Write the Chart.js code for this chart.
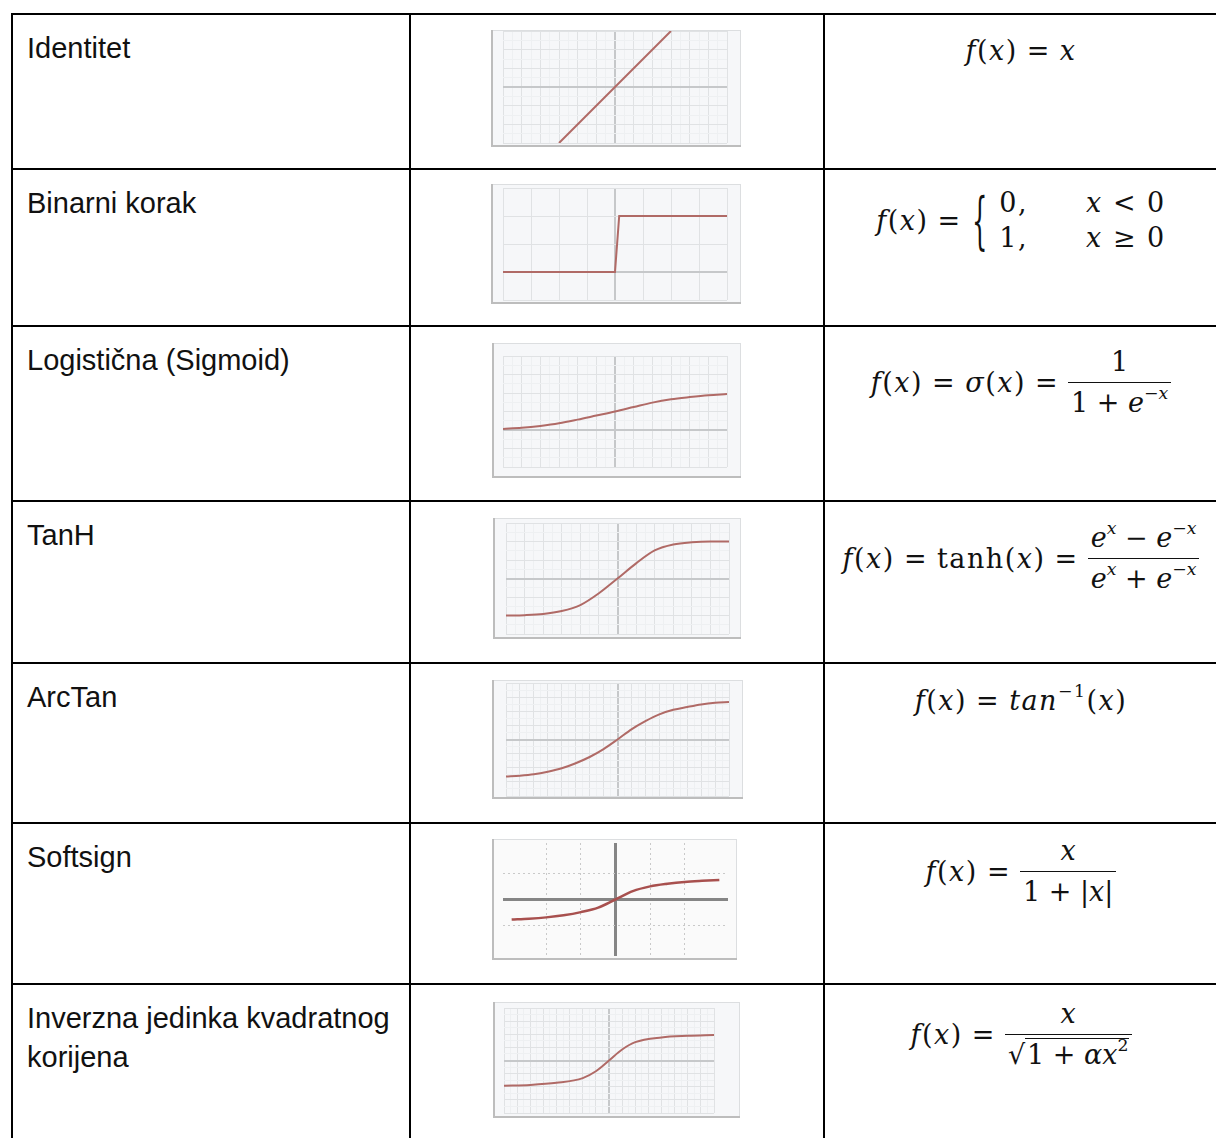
<!DOCTYPE html>
<html>
<head>
<meta charset="utf-8">
<script src="https://cdn.jsdelivr.net/npm/chart.js@4"></script>
<style>
body{margin:0;width:1216px;height:1138px;overflow:hidden;background:#fff;position:relative;font-family:"Liberation Sans",Arial,sans-serif;}
.hl{position:absolute;height:2px;background:#000;}
.vl{position:absolute;width:2px;background:#000;}
.name{position:absolute;left:27px;width:380px;font-size:29px;line-height:39px;color:#111;}
.box{position:absolute;background:#f6f7f9;box-shadow:inset 2px -2px 0 #bdbdbd, inset -1px 1px 0 #dcdee0;}
.f{position:absolute;left:826px;width:390px;display:flex;justify-content:center;align-items:center;font-family:"DejaVu Serif",serif;font-size:27px;letter-spacing:1.5px;color:#111;white-space:nowrap;}
.i{font-style:italic}
.eq{margin:0 9px;}
.frac{display:inline-flex;flex-direction:column;align-items:center;letter-spacing:0;}
.frac > span{padding:0 3px;line-height:40px;}
.frac .den{border-top:1.7px solid #111;}
sup{font-size:.64em;vertical-align:.75em;line-height:0;}
.brace{display:inline-block;transform:scale(0.9,2.3);font-weight:300;margin:0 10px 0 0;}
.cases{display:inline-grid;grid-template-columns:auto auto;column-gap:58px;line-height:35px;}
.sqrt{border-top:1.7px solid #111;padding-left:2px;}
</style>
</head>
<body>
<div id="table"></div>

<div class="f" style="top:30px;height:40px;"><span class="i">f</span>(<span class="i">x</span>)<span class="eq">=</span><span class="i">x</span></div>

<div class="f" style="top:190px;height:60px;"><span class="i">f</span>(<span class="i">x</span>)<span class="eq">=</span><span class="brace">{</span><span class="cases"><span>0,</span><span><span class="i">x</span> &lt; 0</span><span>1,</span><span><span class="i">x</span> ≥ 0</span></span></div>

<div class="f" style="top:344px;height:76px;"><span class="i">f</span>(<span class="i">x</span>)<span class="eq">=</span><span class="i">σ</span>(<span class="i">x</span>)<span class="eq">=</span><span class="frac"><span class="num">1</span><span class="den">1 + <span class="i">e</span><sup>−<span class="i">x</span></sup></span></span></div>

<div class="f" style="top:520px;height:76px;"><span class="i">f</span>(<span class="i">x</span>)<span class="eq">=</span>tanh(<span class="i">x</span>)<span class="eq">=</span><span class="frac"><span class="num"><span class="i">e</span><sup><span class="i">x</span></sup> − <span class="i">e</span><sup>−<span class="i">x</span></sup></span><span class="den"><span class="i">e</span><sup><span class="i">x</span></sup> + <span class="i">e</span><sup>−<span class="i">x</span></sup></span></span></div>

<div class="f" style="top:680px;height:40px;"><span class="i">f</span>(<span class="i">x</span>)<span class="eq">=</span><span><span class="i">tan</span><sup>−1</sup>(<span class="i">x</span>)</span></div>

<div class="f" style="top:833px;height:76px;"><span class="i">f</span>(<span class="i">x</span>)<span class="eq">=</span><span class="frac"><span class="num"><span class="i">x</span></span><span class="den">1 + |<span class="i">x</span>|</span></span></div>

<div class="f" style="top:996px;height:76px;"><span class="i">f</span>(<span class="i">x</span>)<span class="eq">=</span><span class="frac"><span class="num"><span class="i">x</span></span><span class="den">√<span class="sqrt">1 + <span class="i">α</span><span class="i">x</span><sup>2</sup></span></span></span></div>

<script>
// row labels
const rowNames = ['Identitet', 'Binarni korak', 'Logistična (Sigmoid)', 'TanH', 'ArcTan', 'Softsign', 'Inverzna jedinka kvadratnog korijena'];

// curves
const identityX = [-3, 3];
const identityY = [-3, 3];

const stepX = [-4, 0, 0.15, 4];
const stepY = [0, 0, 1, 1];

const sigmoidX = [-6, -5, -4, -3, -2, -1, 0, 1, 2, 3, 4, 5, 6];
const sigmoidY = [0.03, 0.06, 0.11, 0.18, 0.28, 0.39, 0.5, 0.62, 0.74, 0.83, 0.89, 0.94, 0.97];

const tanhX = [-3, -2.5, -2, -1.5, -1, -0.5, 0, 0.5, 1, 1.5, 2, 2.5, 3];
const tanhY = [-1.0, -0.99, -0.96, -0.88, -0.72, -0.4, 0, 0.41, 0.76, 0.92, 0.98, 1.0, 1.0];

const arctanX = [-4, -3.5, -3, -2.5, -2, -1.5, -1, -0.5, 0, 0.5, 1, 1.5, 2, 2.5, 3, 3.5, 4];
const arctanY = [-1.31, -1.28, -1.23, -1.14, -1.02, -0.84, -0.62, -0.34, 0, 0.36, 0.65, 0.89, 1.05, 1.15, 1.24, 1.3, 1.33];

const softsignX = [-3, -2.5, -2, -1.5, -1, -0.5, 0, 0.5, 1, 1.5, 2, 2.5, 3];
const softsignY = [-0.76, -0.73, -0.68, -0.6, -0.48, -0.31, 0, 0.32, 0.5, 0.6, 0.67, 0.71, 0.74];

const isruX = [-4, -3, -2, -1, -0.5, 0, 0.5, 1, 2, 3, 4];
const isruY = [-0.96, -0.93, -0.85, -0.67, -0.41, 0, 0.42, 0.7, 0.88, 0.94, 0.97];

const rowTops = [14, 169, 326, 501, 663, 823, 984];

const table = document.getElementById('table');
function add(cls, css, text) {
  const d = document.createElement('div');
  d.className = cls;
  d.style.cssText = css;
  if (text) d.textContent = text;
  table.appendChild(d);
  return d;
}
rowTops.forEach((y, i) => {
  add('hl', `left:11px;width:1210px;top:${y - 1}px;`);
  add('name', `top:${y + 15}px;`, rowNames[i]);
});
[11, 409, 823, 1217].forEach(x => add('vl', `left:${x}px;top:13px;height:1130px;`));

const lineColor = '#b06a66';

const charts = [
  { xs: identityX, ys: identityY, box: [491, 30, 741, 147], plot: [503, 31, 727, 143], x: [-6, 6, 1], y: [-3, 3, 1], minor: true },
  { xs: stepX, ys: stepY, box: [491, 184, 741, 304], plot: [503, 188, 727, 300], x: [-4, 4, 1], y: [-0.5, 1.5, 0.5], minor: false, straight: true },
  { xs: sigmoidX, ys: sigmoidY, box: [492, 343, 741, 478], plot: [503, 356, 727, 467], x: [-6, 6, 1], y: [-1, 2, 0.5], minor: true },
  { xs: tanhX, ys: tanhY, box: [493, 518, 741, 639], plot: [506, 523, 729, 634], x: [-3, 3, 0.5], y: [-1.5, 1.5, 0.5], minor: true },
  { xs: arctanX, ys: arctanY, box: [492, 680, 743, 799], plot: [506, 683, 729, 796], x: [-4, 4, 0.5], y: [-2, 2, 0.5], minor: true },
  { xs: softsignX, ys: softsignY, box: [492, 839, 737, 960], plot: [503, 843, 728, 956], x: [-3.25, 3.25, 1], y: [-2.15, 2.15, 1], minor: false, dotted: true },
  { xs: isruX, ys: isruY, box: [493, 1002, 740, 1118], plot: [504, 1008, 714, 1113], x: [-4, 4, 0.5], y: [-2, 2, 0.5], minor: true }
];

function onStep(v, step) {
  const r = v / step;
  return Math.abs(r - Math.round(r)) < 1e-6;
}

function axisOpts(range, c) {
  const [min, max, step] = range;
  return {
    type: 'linear',
    min: min,
    max: max,
    ticks: { display: false, stepSize: c.minor ? step / 2 : step },
    border: { display: false, dash: ctx => (c.dotted && ctx.tick && ctx.tick.value !== 0) ? [2, 3] : [] },
    grid: {
      drawTicks: false,
      color: ctx => {
        const v = ctx.tick.value;
        if (Math.abs(v) < 1e-9) return c.dotted ? '#858585' : '#c6c8ca';
        if (!onStep(v, step)) return c.minor ? '#eef0f2' : 'rgba(0,0,0,0)';
        return c.dotted ? '#c9c9c9' : '#e0e2e4';
      },
      lineWidth: ctx => Math.abs(ctx.tick.value) < 1e-9 ? (c.dotted ? 3 : 2) : 1
    }
  };
}

charts.forEach(c => {
  const [bx0, by0, bx1, by1] = c.box;
  const [px0, py0, px1, py1] = c.plot;
  const box = document.createElement('div');
  box.className = 'box';
  box.style.cssText = `left:${bx0}px;top:${by0}px;width:${bx1 - bx0}px;height:${by1 - by0}px;` + (c.dotted ? 'background:#fafafa;' : '');
  const canvas = document.createElement('canvas');
  box.appendChild(canvas);
  document.body.appendChild(box);

  new Chart(canvas.getContext('2d'), {
    type: 'line',
    data: {
      datasets: [{
        data: c.xs.map((x, i) => ({ x: x, y: c.ys[i] })),
        borderColor: c.dotted ? '#a8504e' : lineColor,
        borderWidth: c.dotted ? 2.5 : 2,
        pointRadius: 0,
        fill: false,
        cubicInterpolationMode: c.straight ? 'default' : 'monotone',
        tension: 0
      }]
    },
    options: {
      responsive: true,
      maintainAspectRatio: false,
      animation: false,
      events: [],
      layout: { padding: { left: px0 - bx0, top: py0 - by0, right: bx1 - px1, bottom: by1 - py1 } },
      plugins: { legend: { display: false }, tooltip: { enabled: false } },
      scales: { x: axisOpts(c.x, c), y: axisOpts(c.y, c) }
    }
  });
});
</script>
</body>
</html>
